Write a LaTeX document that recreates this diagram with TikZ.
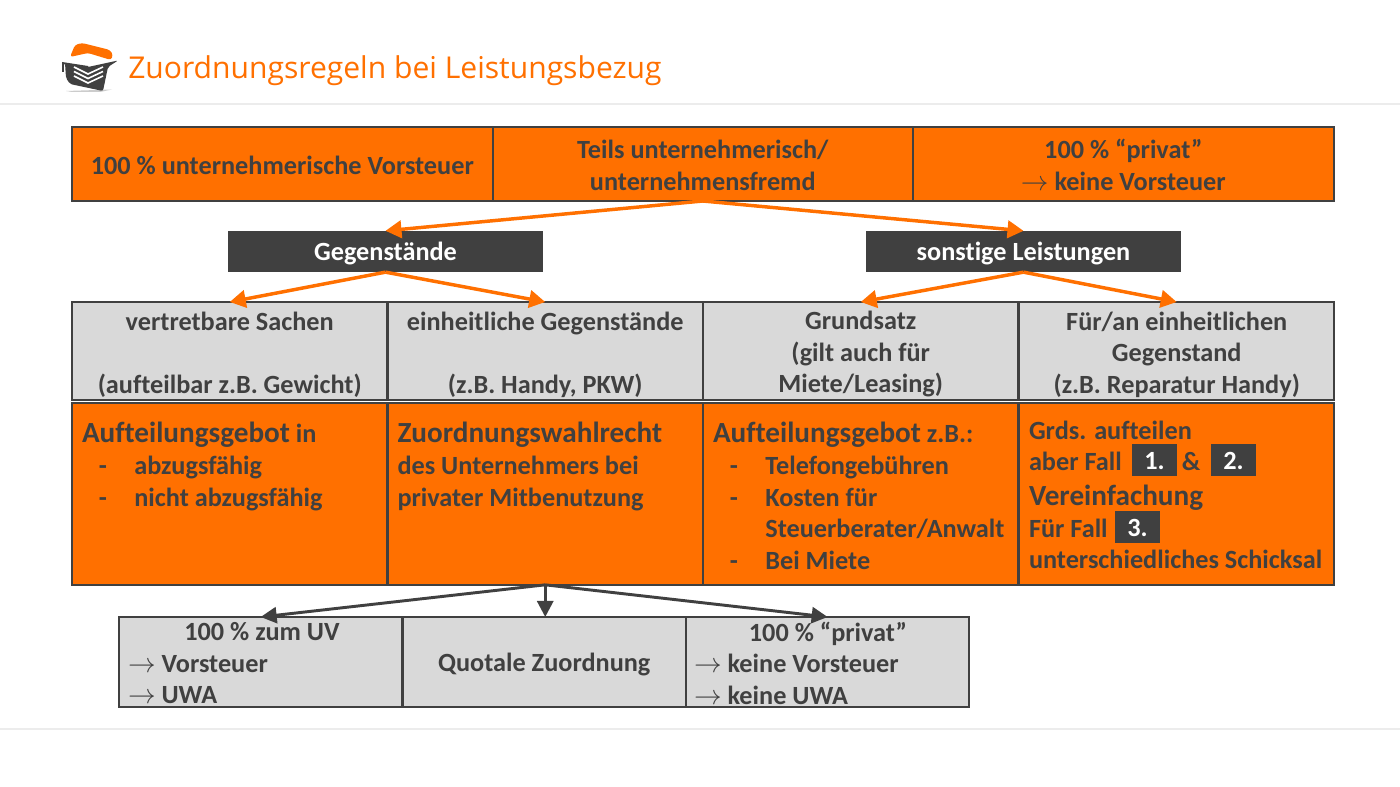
\documentclass[tikz,border=0pt]{standalone}
\usepackage{fontspec}
\setmainfont[Ligatures=NoCommon]{Carlito}
\newfontfamily\titlefont{Open Sans}
\usepackage{tikz}
\usetikzlibrary{arrows.meta}
\definecolor{darkgr}{HTML}{404040}
\definecolor{orng}{HTML}{FF7000}
\definecolor{lightgr}{HTML}{D9D9D9}
\definecolor{rulegr}{HTML}{ECECEC}
\newcommand{\dashitem}{\hspace*{12.7pt}\makebox[26.6pt][l]{-}}
\newcommand{\contitem}{\hspace*{39.3pt}}
\newcommand{\bigtxt}[1]{{\fontsize{21.9}{24}\selectfont #1}}
\newcommand{\topstrut}[1]{\rule{0pt}{#1}}

\begin{document}
\begin{tikzpicture}[x=0.75pt,y=-0.75pt]
  \tikzstyle{txtbase}=[font=\fontsize{19.7}{23.6}\selectfont\bfseries, text=darkgr, align=center, inner sep=0pt, outer sep=0pt]
  \tikzstyle{cell}=[txtbase, draw=darkgr, line width=1.5pt, anchor=north west]
  \tikzstyle{toprow}=[cell, fill=orng, minimum width=315.5pt, minimum height=55.5pt]
  \tikzstyle{greyrow}=[cell, fill=lightgr, minimum width=236.6pt, minimum height=73.5pt]
  \tikzstyle{midrow}=[cell, fill=orng, minimum width=236.6pt, minimum height=136pt]
  \tikzstyle{lowrow}=[cell, fill=lightgr, minimum width=212.5pt, minimum height=67.5pt]
  \tikzstyle{head}=[txtbase, align=none, fill=darkgr, text=white, minimum width=236.5pt, minimum height=31pt, text height=19.4pt, text depth=5.2pt]
  \tikzstyle{badge}=[txtbase, align=none, fill=darkgr, text=white, minimum width=33.75pt, minimum height=22.5pt, text height=19.5pt, text depth=5pt]
  \tikzstyle{celltxt}=[txtbase, anchor=north west, align=flush left]
  \tikzstyle{orarrow}=[draw=orng, line width=2.6pt, -{Triangle[length=12pt,width=13pt]}]
  \tikzstyle{dkarrow}=[draw=darkgr, line width=2.2pt, -{Triangle[length=12pt,width=12pt]}]

  \useasboundingbox (0,0) rectangle (1400,787);
  \fill[white] (0,0) rectangle (1400,787);
  \draw[rulegr, line width=2pt] (0,104) -- (1400,104);
  \draw[rulegr, line width=2pt] (0,729) -- (1400,729);

  % logo
  \fill[gray!40] (66,91) -- (112,89.5) -- (100,92) -- (72,92) -- cycle;
  \fill[orng, rounded corners=2pt] (70,57) -- (75,45) -- (82,43) -- (110,50) -- (113,55) -- (111,60) -- (88,53) -- cycle;
  \fill[darkgr, rounded corners=1.5pt] (65,63) -- (88,67) -- (118,60.5) -- (108,67) -- (103,91) -- (70,84) -- (66,78) -- cycle;
  \fill[darkgr] (62,62) -- (88,66) -- (88,68) -- (62,64) -- cycle;
  \draw[darkgr, line width=1.2pt] (63,63) -- (63,72);
  \foreach \yy in {0,4.5,9} {
    \draw[white, line width=1.2pt] (74,67+\yy) -- (88,74+\yy) -- (103,67+\yy);
  }
  \node[text=orng, font=\titlefont\fontsize{22.55}{28}\selectfont, anchor=west, inner sep=0pt] (title) at (128,71) {Zuordnungsregeln bei Leistungsbezug};

  % top row
  \node[toprow] (top1) at (72,127) {\topstrut{16pt}100 \% unternehmerische Vorsteuer};
  \node[toprow] (top2) at (492.5,127) {\topstrut{16pt}Teils unternehmerisch/\\unternehmensfremd};
  \node[toprow] (top3) at (913,127) {\topstrut{16pt}100 \% “privat”\\$\rightarrow$ keine Vorsteuer};

  % heads
  \node[head] (geg) at (385.5,251.5) {Gegenstände};
  \node[head] (sonst) at (1023.5,251.5) {sonstige Leistungen};

  % grey row
  \node[greyrow] (g1) at (72,302) {\topstrut{19pt}vertretbare Sachen\\~\\(aufteilbar z.B. Gewicht)};
  \node[greyrow] (g2) at (387.5,302) {\topstrut{19pt}einheitliche Gegenstände\\~\\(z.B. Handy, PKW)};
  \node[greyrow] (g3) at (703,302) {\topstrut{19pt}Grundsatz\\(gilt auch für\\Miete/Leasing)};
  \node[greyrow] (g4) at (1019,302) {\topstrut{19pt}Für/an einheitlichen\\Gegenstand\\(z.B. Reparatur Handy)};

  % orange row
  \node[midrow] (m1) at (72,403.5) {};
  \node[midrow] (m2) at (387.5,403.5) {};
  \node[midrow] (m3) at (703,403.5) {};
  \node[midrow] (m4) at (1019,403.5) {};
  \node[celltxt] (m1txt) at (82,422) {\bigtxt{Aufteilungsgebot} in\\[0.6pt]\dashitem abzugsfähig\\\dashitem nicht abzugsfähig};
  \node[celltxt] (m2txt) at (397.5,422) {\bigtxt{Zuordnungswahlrecht}\\[0.6pt]des Unternehmers bei\\privater Mitbenutzung};
  \node[celltxt] (m3txt) at (713,422) {\bigtxt{Aufteilungsgebot} z.B.:\\[0.6pt]\dashitem Telefongebühren\\\dashitem Kosten für\\\contitem Steuerberater/Anwalt\\\dashitem Bei Miete};
  \node[celltxt] (m4txt) at (1029,421) {Grds. aufteilen\\aber Fall\hspace{45pt}\&\\[2.5pt]\bigtxt{Vereinfachung}\\Für Fall\\unterschiedliches Schicksal};
  \node[badge] (b1) at (1154.5,460) {1.};
  \node[badge] (b2) at (1233.5,460) {2.};
  \node[badge] (b3) at (1137.5,527) {3.};

  % lower row
  \node[lowrow] (l1) at (119,617) {};
  \node[lowrow, align=none, text height=19.6pt, text depth=5pt] (l2) at (402.5,617) {Quotale Zuordnung};
  \node[lowrow] (l3) at (686,617) {};
  \node[celltxt, text width=201pt] (l1txt) at (128,622.5) {\makebox[\linewidth][c]{100 \% zum UV}\\$\rightarrow$ Vorsteuer\\$\rightarrow$ UWA};
  \node[celltxt, text width=201pt] (l3txt) at (694,622) {\makebox[\linewidth][c]{100 \% “privat”}\\$\rightarrow$ keine Vorsteuer\\$\rightarrow$ keine UWA};

  \draw[orarrow] (top2.south) -- (geg.north);
  \draw[orarrow] (top2.south) -- (sonst.north);
  \draw[orarrow] (geg.south) -- (g1.north);
  \draw[orarrow] (geg.south) -- (g2.north);
  \draw[orarrow] (sonst.south) -- (g3.north);
  \draw[orarrow] (sonst.south) -- (g4.north);
  \draw[dkarrow] (m2.south) -- (l1.north);
  \draw[dkarrow] (m2.south) -- (m2.south |- l2.north);
  \draw[dkarrow] (m2.south) -- (l3.north);
\end{tikzpicture}
\end{document}
